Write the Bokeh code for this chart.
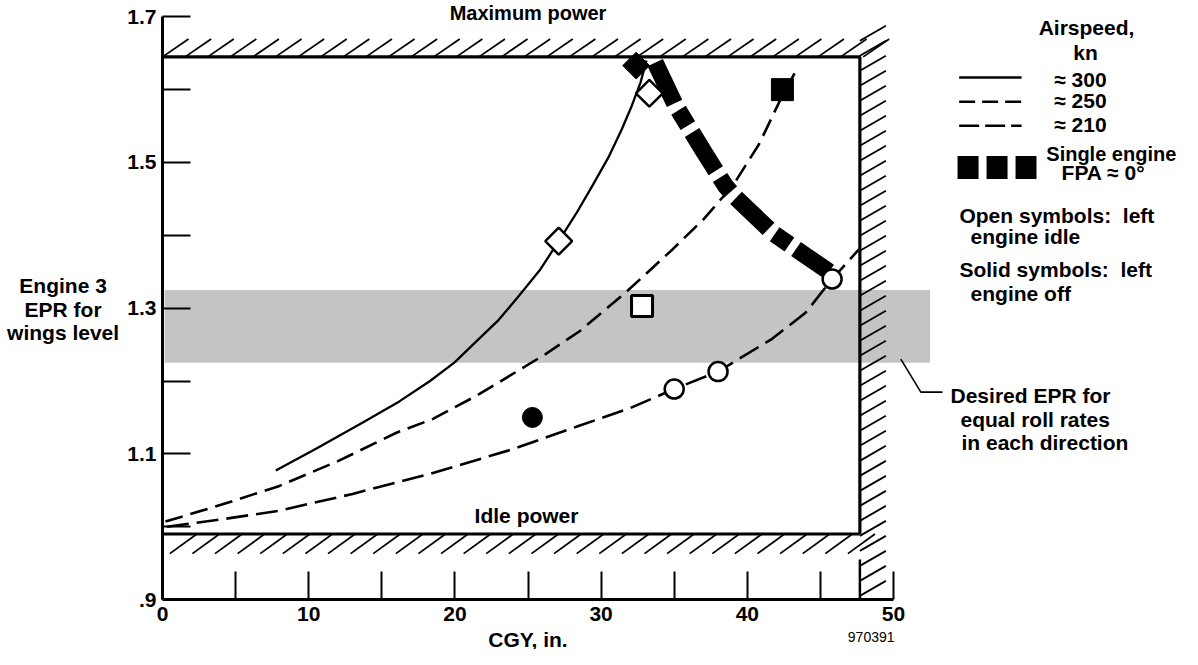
import numpy as np
from bokeh.plotting import figure
from bokeh.models import LinearAxis, FixedTicker, Range1d
from bokeh.core.properties import value
from bokeh.embed import file_html
from bokeh.resources import INLINE

# ---------------- data ----------------
cgy_300 = [7.75, 10.5, 13.7, 16.2, 18.3, 20.0, 21.5, 23.0, 24.3, 25.8, 27.1, 28.3, 29.4, 30.5, 31.4, 32.1, 32.7, 33.1]
epr_300 = [1.077, 1.107, 1.143, 1.172, 1.200, 1.226, 1.255, 1.284, 1.315, 1.352, 1.392, 1.430, 1.468, 1.507, 1.545, 1.578, 1.610, 1.640]

cgy_250 = [0.2, 4.0, 8.0, 12.0, 16.0, 18.5, 21.5, 23.9, 26.2, 28.5, 31.6, 34.9, 37.0, 39.0, 40.8, 42.4, 43.5]
epr_250 = [1.007, 1.030, 1.056, 1.090, 1.129, 1.148, 1.180, 1.209, 1.237, 1.268, 1.320, 1.381, 1.422, 1.468, 1.525, 1.592, 1.632]

cgy_210 = [0.3, 4.0, 8.0, 13.0, 18.2, 23.9, 28.5, 32.0, 35.0, 38.0, 41.7, 44.0, 45.8, 47.65]
epr_210 = [1.000, 1.010, 1.022, 1.045, 1.072, 1.106, 1.1385, 1.163, 1.189, 1.213, 1.258, 1.294, 1.340, 1.381]

cgy_single = [33.7, 35.1, 37.05, 38.5, 39.2, 41.7, 44.0, 45.6]
epr_single = [1.637, 1.578, 1.514, 1.468, 1.452, 1.404, 1.372, 1.350]

open_diamond_x = [27.1, 33.3]
open_diamond_y = [1.392, 1.595]
open_square_x = [32.8]
open_square_y = [1.303]
open_circle_x = [35.0, 38.0, 45.8]
open_circle_y = [1.189, 1.213, 1.340]
solid_circle_x = [25.3]
solid_circle_y = [1.150]
solid_square_x = [42.4]
solid_square_y = [1.600]
solid_diamond_x = [32.4]
solid_diamond_y = [1.633]

max_power_epr = 1.645
idle_epr = 0.99
cgy_limit = 47.7
desired_epr_low = 1.225
desired_epr_high = 1.325

x_ticks = [0, 10, 20, 30, 40, 50]
x_minor = [5, 15, 25, 35, 45]
y_ticks = [0.9, 1.1, 1.3, 1.5, 1.7]
y_minor = [1.0, 1.2, 1.4, 1.6]
y_tick_labels = {0.9: ".9"}

FONT = value("Liberation Sans")

p = figure(width=1180, height=649,
           x_range=Range1d(-11.081, 69.63), y_range=Range1d(0.8314, 1.7224),
           x_axis_location=None, y_axis_location=None,
           toolbar_location=None, output_backend="svg",
           min_border=0, outline_line_color=None)
p.background_fill_color = "white"
p.border_fill_color = "white"
p.grid.visible = False


def txt(x, y, s, align="left", size="21px", style="bold", color="black"):
    p.text(x=[x], y=[y], text=[s], text_font=FONT, text_font_size=size,
           text_font_style=style, text_align=align, text_baseline="middle",
           text_color=color)


# desired EPR band
p.quad(left=[0.15], right=[52.5], bottom=[desired_epr_low], top=[desired_epr_high],
       fill_color="#c4c4c4", line_color=None)

# hatching
hw = 1.8
tx = np.arange(0.0, cgy_limit + 0.5, 1.546)
p.segment(x0=tx, y0=np.full_like(tx, max_power_epr), x1=tx + 1.78,
          y1=np.full_like(tx, max_power_epr + 0.0247), line_color="black", line_width=hw)
bx = np.arange(0.5, cgy_limit, 1.546)
p.segment(x0=bx, y0=np.full_like(bx, idle_epr - 0.027), x1=bx + 1.85,
          y1=np.full_like(bx, idle_epr), line_color="black", line_width=hw)
ry = np.arange(0.905, 1.672, 0.0206)
p.segment(x0=np.full_like(ry, cgy_limit), y0=ry, x1=np.full_like(ry, cgy_limit + 1.78),
          y1=ry + 0.0206, line_color="black", line_width=hw)

# envelope lines
p.line([0, cgy_limit, cgy_limit], [max_power_epr, max_power_epr, idle_epr],
       line_color="black", line_width=3.2)
p.line([0, cgy_limit], [idle_epr, idle_epr], line_color="black", line_width=3.2)
p.line([cgy_limit, cgy_limit], [0.955, 0.9], line_color="black", line_width=2.5)

# curves
p.line(cgy_300, epr_300, line_color="black", line_width=2.3, line_join="round")
p.line(cgy_250, epr_250, line_color="black", line_width=2.6, line_dash="18 8")
p.line(cgy_210, epr_210, line_color="black", line_width=2.6, line_dash="22 8")
p.line(cgy_single, epr_single, line_color="black", line_width=17, line_dash="45 8 18 8")

# symbols
p.scatter(solid_diamond_x, solid_diamond_y, marker="square", angle=np.pi / 4, size=19,
          fill_color="black", line_color="black")
p.scatter(open_diamond_x, open_diamond_y, marker="square", angle=np.pi / 4, size=19,
          fill_color="white", line_color="black", line_width=2.5)
p.scatter(open_square_x, open_square_y, marker="square", size=21,
          fill_color="white", line_color="black", line_width=3)
p.scatter(solid_square_x, solid_square_y, marker="square", size=22,
          fill_color="black", line_color="black")
p.scatter(open_circle_x, open_circle_y, marker="circle", size=19,
          fill_color="white", line_color="black", line_width=2.5)
p.scatter(solid_circle_x, solid_circle_y, marker="circle", size=20,
          fill_color="black", line_color="black")

# axes
xa = LinearAxis(fixed_location=0.9, bounds=(0, 50),
                ticker=FixedTicker(ticks=x_ticks, minor_ticks=x_minor),
                axis_label="CGY, in.")
ya = LinearAxis(fixed_location=0, bounds=(0.9, 1.7),
                ticker=FixedTicker(ticks=y_ticks, minor_ticks=y_minor),
                major_label_overrides=y_tick_labels)
for ax in (xa, ya):
    ax.axis_line_width = 3
    ax.axis_line_color = "black"
    ax.major_tick_in = 28
    ax.major_tick_out = 0
    ax.minor_tick_in = 28
    ax.minor_tick_out = 0
    ax.major_tick_line_width = 2
    ax.minor_tick_line_width = 2
    ax.major_tick_line_color = "black"
    ax.minor_tick_line_color = "black"
    ax.major_label_text_font = "Liberation Sans"
    ax.major_label_text_font_style = "bold"
    ax.major_label_text_font_size = "21px"
    ax.major_label_text_color = "black"
    ax.axis_label_text_font = "Liberation Sans"
    ax.axis_label_text_font_style = "bold"
    ax.axis_label_text_font_size = "21px"
    ax.axis_label_text_color = "black"
xa.major_label_standoff = 7
xa.axis_label_standoff = 4
ya.major_label_standoff = 6
p.add_layout(xa, "below")
p.add_layout(ya, "left")

# texts on the chart
txt(25.0, 1.7059, "Maximum power", align="center", size="20px")
txt(24.9, 1.0154, "Idle power", align="center")
txt(-6.8, 1.3311, "Engine 3", align="center")
txt(-6.8, 1.2986, "EPR for", align="center")
txt(-6.8, 1.2666, "wings level", align="center")
txt(50.07, 0.8485, "970391", align="right", size="14px", style="normal")

# leader for the desired band
p.line([50.5, 51.87, 53.35], [1.23, 1.1848, 1.1848], line_color="black", line_width=1.6)
txt(53.9, 1.180, "Desired EPR for")
txt(54.58, 1.1476, "equal roll rates")
txt(54.65, 1.1156, "in each direction")

# legend
txt(63.2, 1.6853, "Airspeed,", align="center")
txt(63.13, 1.651, "kn", align="center")
p.line([54.49, 58.76], [1.6167, 1.6167], line_color="black", line_width=2.3)
p.line([54.49, 58.76], [1.5833, 1.5833], line_color="black", line_width=2.6, line_dash="16 7")
p.line([54.49, 58.76], [1.5504, 1.5504], line_color="black", line_width=2.6, line_dash="20 6")
txt(60.99, 1.6143, "\u2248 300")
txt(60.99, 1.5847, "\u2248 250")
txt(60.99, 1.5526, "\u2248 210")
p.line([54.38, 59.78], [1.4931, 1.4931], line_color="black", line_width=23, line_dash="21 8")
txt(60.45, 1.5114, "Single engine", size="20px")
txt(64.36, 1.4862, "FPA \u2248 0\u00b0", align="center")
txt(54.51, 1.4276, "Open symbols:\u00a0\u00a0left")
txt(55.27, 1.3984, "engine idle")
txt(54.51, 1.3527, "Solid symbols:\u00a0\u00a0left")
txt(55.27, 1.3201, "engine off")

open("out.html", "w").write(file_html(p, INLINE))
